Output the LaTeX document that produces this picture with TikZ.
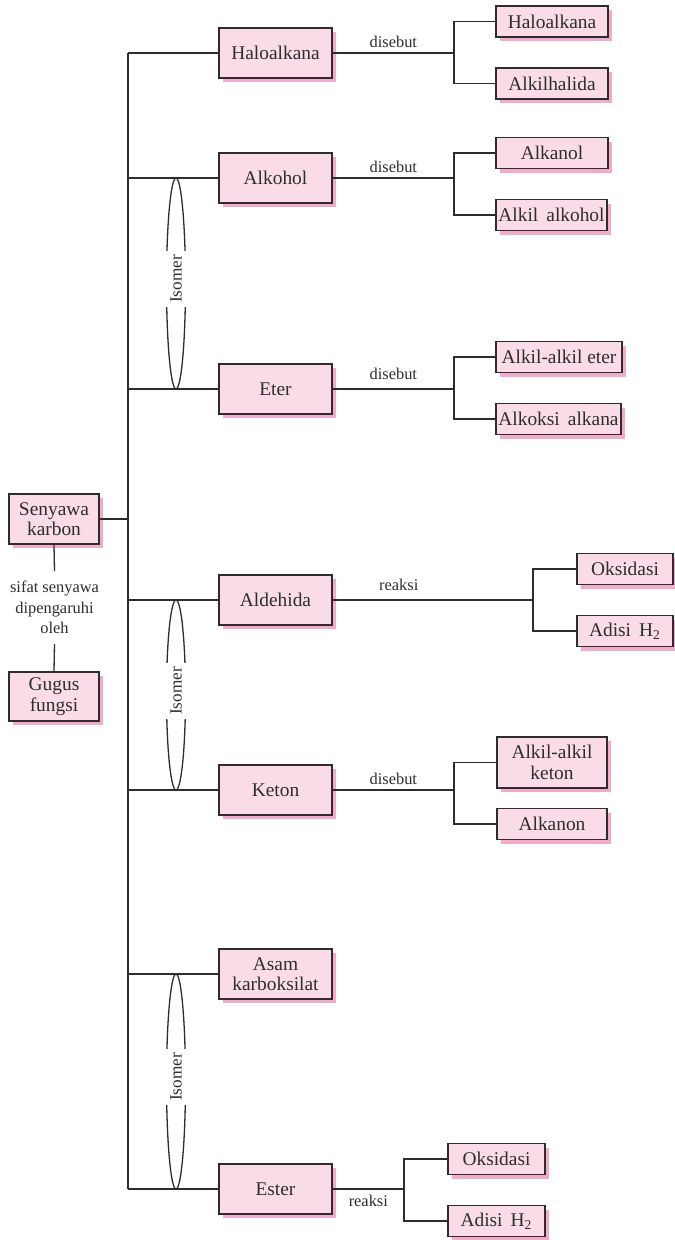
\documentclass[tikz,border=0pt]{standalone}
\usepackage{fontspec}
\setmainfont{Liberation Serif}
\usepackage{tikz}
\usetikzlibrary{shapes.geometric,shadows}
\definecolor{kotakpink}{RGB}{250,220,232}
\definecolor{bayangpink}{RGB}{245,170,204}
\definecolor{garis}{RGB}{45,45,45}

\begin{document}
\begin{tikzpicture}[x=0.5pt, y=-0.5pt, color=garis, line width=0.65pt,
    kotak/.style={draw, fill=kotakpink, inner sep=0pt, align=center,
        font=\fontsize{9.7}{10.3}\selectfont,
        drop shadow={shadow xshift=2.2pt, shadow yshift=-2.2pt, fill=bayangpink, opacity=1}},
    besar/.style={kotak, minimum width=56.5pt, minimum height=25pt},
    kecil/.style={kotak, minimum height=15.5pt},
    ket/.style={font=\fontsize{8.2}{10.2}\selectfont, inner sep=2.5pt},
    isomer/.style={ellipse, draw, inner sep=0pt, minimum width=9.5pt},
    isoteks/.style={rotate=90, fill=white, inner xsep=2pt, inner ysep=3pt,
        font=\fontsize{8.6}{10}\selectfont}]
\useasboundingbox (0,0) rectangle (674,1240);
                    % Nodes
                    \node[kotak, minimum width=45pt, minimum height=25pt] (senyawa) at (54,519) {Senyawa\\karbon};
                    \node[ket, align=center, inner xsep=0pt, inner ysep=4.7pt] (sifat) at (54.5,607.5) {sifat senyawa\\dipengaruhi\\oleh};
                    \node[kotak, minimum width=45pt, minimum height=24.5pt] (gugus) at (54,696.5) {Gugus\\fungsi};
                    \coordinate (atas) at (128,53);
                    \coordinate (bawah) at (128,1189);
                    \node[besar] (halo) at (275.5,53) {Haloalkana};
                    \node[besar] (alkohol) at (275.5,178) {Alkohol};
                    \node[besar] (eter) at (275.5,389) {Eter};
                    \node[besar] (aldehida) at (275.5,600) {Aldehida};
                    \node[besar] (keton) at (275.5,790) {Keton};
                    \node[besar] (asam) at (275.5,974) {Asam\\karboksilat};
                    \node[besar] (ester) at (275.5,1189) {Ester};
                    \node[kecil, minimum width=56pt] (halob) at (552,21.5) {Haloalkana};
                    \node[kecil, minimum width=56pt] (alkilhalida) at (552,83.5) {Alkilhalida};
                    \node[kecil, minimum width=56pt] (alkanol) at (552,153) {Alkanol};
                    \node[kecil, minimum width=55.5pt] (alkilalkohol) at (551.5,215) {Alkil\, alkohol};
                    \node[kecil, minimum width=63pt] (alkileter) at (559,357) {Alkil-alkil eter};
                    \node[kecil, minimum width=62.5pt] (alkoksi) at (558.5,419) {Alkoksi\, alkana};
                    \node[kecil, minimum width=48pt] (oksidasia) at (625,569) {Oksidasi};
                    \node[kecil, minimum width=48pt] (adisia) at (625,631) {Adisi\, H\textsubscript{2}};
                    \node[kotak, minimum width=55pt, minimum height=25.5pt] (alkilketon) at (552,762.5) {Alkil-alkil\\keton};
                    \node[kecil, minimum width=55pt] (alkanon) at (552,824) {Alkanon};
                    \node[kecil, minimum width=48.5pt] (oksidasib) at (496.5,1159) {Oksidasi};
                    \node[kecil, minimum width=48.5pt] (adisib) at (496.5,1221) {Adisi\, H\textsubscript{2}};
                    \coordinate (ja) at (454,53);
                    \coordinate (jb) at (454,178);
                    \coordinate (jc) at (454,389);
                    \coordinate (jd) at (533,600);
                    \coordinate (je) at (454,790);
                    \coordinate (jf) at (404,1189);
                    % Isomer
                    \node[isomer, minimum height=105.5pt] (isoa) at (176,283.5) {};
                    \node[isomer, minimum height=95pt] (isob) at (176,695) {};
                    \node[isomer, minimum height=107.5pt] (isoc) at (176,1081.5) {};
                    \node[isoteks] (tekisoa) at (176,279) {Isomer};
                    \node[isoteks] (tekisob) at (176,691) {Isomer};
                    \node[isoteks] (tekisoc) at (176,1077) {Isomer};
                    % Edges
                    \draw[-] (atas) -- (bawah);
                    \draw[-] (senyawa.east) -- (senyawa.east -| atas);
                    \draw[-] (senyawa.south) -- (sifat.north);
                    \draw[-] (sifat.south) -- (gugus.north);
                    \draw[-] (halo.west) -- (atas);
                    \draw[-] (alkohol.west) -- (alkohol.west -| atas);
                    \draw[-] (eter.west) -- (eter.west -| atas);
                    \draw[-] (aldehida.west) -- (aldehida.west -| atas);
                    \draw[-] (keton.west) -- (keton.west -| atas);
                    \draw[-] (asam.west) -- (asam.west -| atas);
                    \draw[-] (ester.west) -- (bawah);
                    \draw[-] (halo.east) -- node[ket, above] {disebut} (ja);
                    \draw[-] (halob.west) -| (ja) |- (alkilhalida.west);
                    \draw[-] (alkohol.east) -- node[ket, above] {disebut} (jb);
                    \draw[-] (alkanol.west) -| (jb) |- (alkilalkohol.west);
                    \draw[-] (eter.east) -- node[ket, above, yshift=2pt] {disebut} (jc);
                    \draw[-] (alkileter.west) -| (jc) |- (alkoksi.west);
                    \draw[-] (aldehida.east) -- node[ket, above, pos=0.33, yshift=2pt] {reaksi} (jd);
                    \draw[-] (oksidasia.west) -| (jd) |- (adisia.west);
                    \draw[-] (keton.east) -- node[ket, above] {disebut} (je);
                    \draw[-] (alkilketon.west) -| (je) |- (alkanon.west);
                    \draw[-] (ester.east) -- node[ket, below] {reaksi} (jf);
                    \draw[-] (oksidasib.west) -| (jf) |- (adisib.west);
                \end{tikzpicture}
\end{document}
